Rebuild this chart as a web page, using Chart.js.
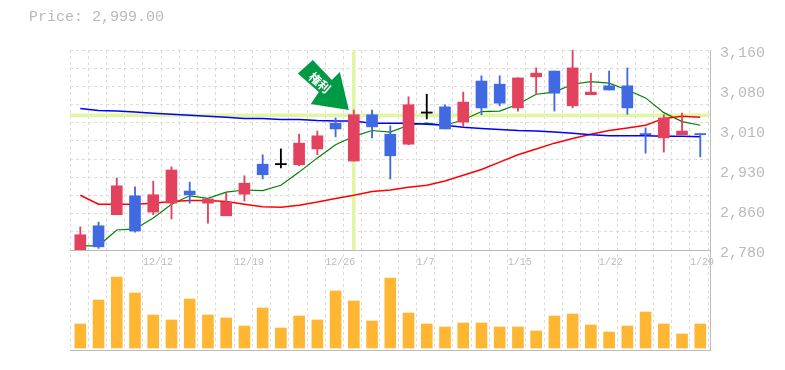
<!DOCTYPE html>
<html lang="ja">
<head>
<meta charset="UTF-8">
<title>Price chart</title>
<script src="https://cdn.jsdelivr.net/npm/chart.js"></script>
<style>
    body { margin: 0; background: #fff; }
    #price {
        position: absolute;
        left: 29px;
        top: 9px;
        font: 15px "Liberation Mono", monospace;
        color: #bbb;
    }
    canvas { display: block; }
</style>
</head>
<body>
<div id="price">Price: 2,999.00</div>
<canvas id="chart" width="785" height="370"></canvas>
<script>
// ローソク足 (35本)
const opens  = [2780,2826,2847,2883,2852,2869,2892,2869,2845,2886,2943,2942,2942,2972,3021,2949,3037,3000,2981,3040,3052,3023,3101,3095,3050,3109,3120,3054,3075,3092,3092,3000,2993,2999,3000];
const closes = [2809,2786,2902,2816,2885,2932,2885,2877,2871,2907,2923,2942,2983,2997,3010,3037,3014,2959,3056,3040,3010,3061,3050,3059,3107,3116,3078,3126,3080,3084,3050,2999,3031,3006,2999];
const highs  = [2824,2833,2917,2900,2911,2938,2909,2877,2888,2921,2961,2972,3000,3006,3031,3046,3046,3016,3071,3076,3056,3080,3111,3111,3107,3126,3120,3160,3116,3120,3126,3012,3037,3040,3000];
const lows   = [2780,2783,2847,2814,2847,2839,2869,2831,2845,2873,2915,2936,2940,2961,2995,2949,2993,2915,2980,3029,3010,3014,3037,3054,3044,3076,3044,3050,3075,3084,3038,2964,2966,2999,2957];
// 移動平均
const maShort = [2788,2788,2818,2820,2841,2867,2883,2878,2890,2894,2893,2903,2928,2955,2980,2996,3007,3004,3017,3021,3017,3027,3043,3044,3057,3076,3080,3095,3100,3097,3084,3069,3041,3024,3017];
const maMid   = [2884,2867,2867,2867,2869,2872,2874,2874,2872,2867,2862,2861,2865,2871,2878,2884,2891,2894,2899,2903,2911,2922,2933,2947,2961,2972,2983,2992,3000,3007,3012,3017,3030,3034,3032];
const maLong  = [3049,3045,3044,3042,3040,3038,3036,3034,3032,3030,3030,3028,3028,3026,3025,3025,3021,3021,3021,3019,3017,3013,3011,3009,3007,3006,3004,3002,2999,2997,2997,2997,2996,2996,2995];
// 出来高
const volumes = [24,48,71,55,33,28,49,33,30,22,40,20,32,28,57,47,27,70,35,24,21,25,25,21,21,17,32,34,23,16,22,36,24,14,24];

const dateLabels = ['12/12','12/19','12/26','1/7','1/15','1/22','1/29'];
const dateSlots  = [4,9,14,19,24,29,34];
const priceTickValues = [3160,3084,3008,2932,2856,2780];
const priceTickLabels = ['3,160','3,080','3,010','2,930','2,860','2,780'];

const priceMin = 2780, priceMax = 3160;
const xMin = -0.565, xMax = 34.533;
const volMin = -2, volMax = 98;
const markIndex = 15;      // 権利 の矢印と十字線の位置
const markPrice = 3036;

const UP = '#e3425f', DOWN = '#4169e1', FLAT = '#000';
const candleColors = opens.map((o, i) => closes[i] > o ? UP : closes[i] < o ? DOWN : FLAT);
const gridDash = [3, 3];
const gridColor = '#dcdcdc';
const axisColor = '#bbb';
const crossColor = '#e2f5a2';
const monoFont = '"Liberation Mono", monospace';

const lineValues = arr => arr.map((v, i) => ({x: i, y: v}));

function lineSet(arr, color, width) {
    return {
        type: 'line',
        data: lineValues(arr),
        borderColor: color,
        borderWidth: width,
        pointRadius: 0,
        tension: 0,
        yAxisID: 'y',
        order: 5
    };
}

function crossSet(points) {
    return {
        type: 'line',
        data: points,
        borderColor: crossColor,
        borderWidth: 3.5,
        pointRadius: 0,
        yAxisID: 'y',
        order: 9
    };
}

// 矢印は十字線の足の高値を基準に描く
const arrowPlugin = {
    id: 'arrow',
    afterDatasetsDraw(chart) {
        const ctx = chart.ctx;
        const tipX = chart.scales.x.getPixelForValue(markIndex) - 5;
        const tipY = chart.scales.y.getPixelForValue(highs[markIndex]);
        ctx.save();
        ctx.translate(tipX, tipY);
        ctx.fillStyle = '#009944';
        ctx.beginPath();
        ctx.moveTo(-36, -50);
        ctx.lineTo(-51, -36.5);
        ctx.lineTo(-30, -18);
        ctx.lineTo(-38, -6);
        ctx.lineTo(0, 0);
        ctx.lineTo(-9, -38);
        ctx.lineTo(-17, -30);
        ctx.closePath();
        ctx.fill();
        ctx.translate(-29, -27.5);
        ctx.rotate(Math.PI / 4.3);
        ctx.fillStyle = '#fff';
        ctx.font = 'bold 12px "Noto Sans CJK JP"';
        ctx.textAlign = 'center';
        ctx.textBaseline = 'middle';
        ctx.fillText('権利', 0, 0);
        ctx.restore();
    }
};

new Chart(document.getElementById('chart').getContext('2d'), {
    data: {
        datasets: [
            crossSet([{x: xMin, y: markPrice}, {x: xMax, y: markPrice}]),
            crossSet([{x: markIndex, y: priceMin}, {x: markIndex, y: priceMax}]),
            lineSet(maLong, '#0000ff', 1.5),
            lineSet(maMid, '#ff0000', 1.5),
            lineSet(maShort, '#008000', 1.2),
            {
                type: 'bar',
                data: highs.map((h, i) => ({x: i, y: [lows[i], h]})),
                backgroundColor: candleColors,
                barThickness: 1.2,
                grouped: false,
                yAxisID: 'y',
                order: 3
            },
            {
                type: 'bar',
                data: opens.map((o, i) => ({x: i, y: [o, closes[i]]})),
                backgroundColor: candleColors,
                barThickness: 11,
                minBarLength: 1.2,
                grouped: false,
                yAxisID: 'y',
                order: 2
            },
            {
                type: 'bar',
                data: lineValues(volumes),
                backgroundColor: '#ffb733',
                barThickness: 11,
                grouped: false,
                yAxisID: 'v',
                order: 1
            }
        ]
    },
    options: {
        responsive: false,
        animation: false,
        layout: {padding: {left: 70, top: 50, bottom: 20, right: 0}},
        plugins: {legend: {display: false}, tooltip: {enabled: false}},
        scales: {
            x: {
                type: 'linear',
                min: xMin,
                max: xMax,
                offset: false,
                position: {y: priceMin},
                afterBuildTicks(scale) {
                    scale.ticks = Array.from({length: 36}, (_, i) => ({value: xMin + i}));
                },
                ticks: {
                    autoSkip: false,
                    maxRotation: 0,
                    align: 'start',
                    padding: 6,
                    color: axisColor,
                    font: {family: monoFont, size: 10},
                    callback(value, index) {
                        const k = dateSlots.indexOf(index);
                        return k < 0 ? '' : dateLabels[k];
                    }
                },
                grid: {color: gridColor, drawTicks: false, offset: false},
                border: {color: axisColor, dash: gridDash}
            },
            y: {
                position: 'right',
                stack: 'main',
                stackWeight: 2,
                min: priceMin,
                max: priceMax,
                afterFit(scale) { scale.width = 75; },
                afterBuildTicks(scale) {
                    const grid = Array.from({length: 12}, (_, i) => priceMax - i * (priceMax - priceMin) / 11);
                    const extra = priceTickValues.filter(v => !grid.some(g => Math.abs(g - v) < 0.01));
                    scale.ticks = grid.concat(extra).sort((a, b) => a - b).map(v => ({value: v}));
                },
                ticks: {
                    autoSkip: false,
                    padding: 10,
                    labelOffset: 3,
                    color: axisColor,
                    font: {family: monoFont, size: 15},
                    callback(value) {
                        const k = priceTickValues.findIndex(v => Math.abs(v - value) < 0.01);
                        return k < 0 ? '' : priceTickLabels[k];
                    }
                },
                grid: {
                    drawTicks: false,
                    color(c) {
                        const isGrid = Math.abs(((priceMax - c.tick.value) * 11 / (priceMax - priceMin)) % 1) < 0.001
                            || Math.abs(((priceMax - c.tick.value) * 11 / (priceMax - priceMin)) % 1 - 1) < 0.001;
                        return isGrid ? gridColor : 'rgba(0,0,0,0)';
                    }
                },
                border: {color: axisColor, dash: gridDash}
            },
            v: {
                position: 'right',
                stack: 'main',
                stackWeight: 1,
                min: volMin,
                max: volMax,
                afterFit(scale) { scale.width = 75; },
                afterBuildTicks(scale) { scale.ticks = [{value: volMin}]; },
                ticks: {display: false},
                grid: {color: axisColor, drawTicks: false},
                border: {color: axisColor}
            }
        }
    },
    plugins: [arrowPlugin]
});
</script>
</body>
</html>
